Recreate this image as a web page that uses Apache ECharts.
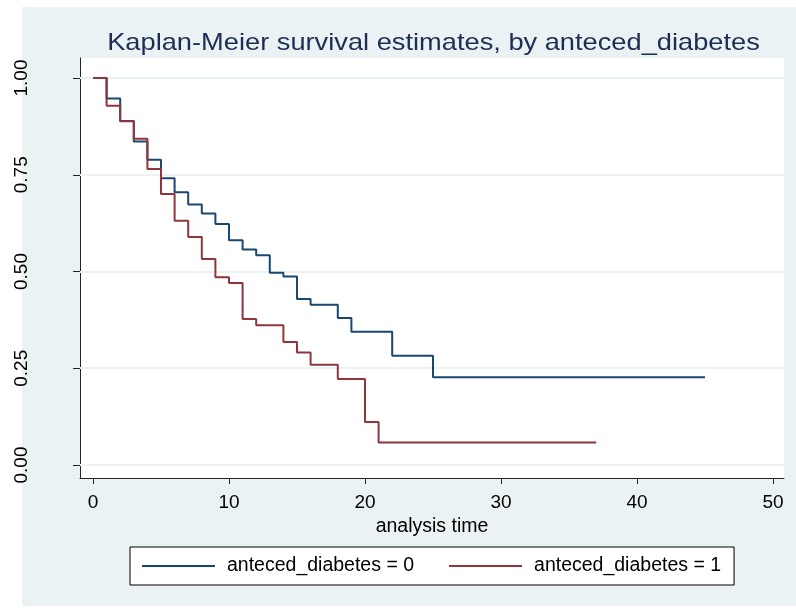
<!DOCTYPE html>
<html>
<head>
<meta charset="utf-8">
<script src="https://cdn.jsdelivr.net/npm/echarts@6/dist/echarts.min.js"></script>
<style>
html,body{margin:0;padding:0;background:#ffffff;}
#chart{width:796px;height:609px;}
</style>
</head>
<body>
<div id="chart"></div>
<script>
// Kaplan-Meier step data (time, survival)
var timesDiab0 = [0, 1, 2, 3, 4, 5, 6, 7, 8, 9, 10, 11, 12, 13, 14, 15, 16, 18, 19, 22, 25, 45];
var survDiab0  = [1.000, 0.947, 0.889, 0.836, 0.789, 0.741, 0.705, 0.673, 0.650, 0.623, 0.581, 0.557, 0.542, 0.497, 0.487, 0.429, 0.414, 0.380, 0.344, 0.282, 0.227, 0.227];
var timesDiab1 = [0, 1, 2, 3, 4, 5, 6, 7, 8, 9, 10, 11, 12, 14, 15, 16, 18, 20, 21, 37];
var survDiab1  = [1.000, 0.928, 0.888, 0.843, 0.765, 0.700, 0.631, 0.589, 0.532, 0.485, 0.470, 0.377, 0.361, 0.318, 0.291, 0.259, 0.222, 0.111, 0.058, 0.058];
var xTicks = [0, 10, 20, 30, 40, 50];
var yTicks = [0, 0.25, 0.5, 0.75, 1];
var seriesNames = ['anteced_diabetes = 0', 'anteced_diabetes = 1'];
var titleText = 'Kaplan-Meier survival estimates, by anteced_diabetes';

function pairs(xs, ys) { return xs.map(function (x, i) { return [x, ys[i]]; }); }

var FONT = '"Liberation Sans", Arial, sans-serif';
var chart = echarts.init(document.getElementById('chart'), null, {renderer: 'canvas'});
chart.setOption({
  animation: false,
  backgroundColor: '#ffffff',
  graphic: [{
    type: 'rect', z: -10, silent: true,
    shape: {x: 22, y: 7, width: 774, height: 599},
    style: {fill: '#EAF2F3'}
  }, {
    type: 'text', z: 10, silent: true,
    x: 433.5, y: 43, scaleX: 1.135, scaleY: 1,
    style: {
      text: titleText, fill: '#1E2D53',
      font: 'normal 24px ' + FONT,
      align: 'center', verticalAlign: 'middle'
    }
  }],
  grid: {
    left: 80, top: 58, width: 704, height: 420,
    show: true, backgroundColor: '#ffffff', borderWidth: 0
  },
  xAxis: {
    type: 'value', min: -0.956, max: 50.81,
    name: 'analysis time', nameLocation: 'middle', nameGap: 35,
    nameTextStyle: {fontFamily: FONT, fontSize: 19.5, color: '#000'},
    axisLine: {show: true, onZero: false, lineStyle: {color: '#222', width: 1}},
    axisTick: {show: true, customValues: xTicks, length: 6, lineStyle: {color: '#222'}},
    axisLabel: {customValues: xTicks, margin: 15, fontFamily: FONT, fontSize: 19, color: '#000'},
    splitLine: {show: false}
  },
  yAxis: {
    type: 'value', min: -0.0336, max: 1.0517,
    axisLine: {show: true, onZero: false, lineStyle: {color: '#222', width: 1}},
    axisTick: {show: true, customValues: yTicks, length: 7, lineStyle: {color: '#222'}},
    axisLabel: {
      customValues: yTicks, rotate: 90, margin: 49,
      fontFamily: FONT, fontSize: 19, color: '#000',
      formatter: function (v) { return v.toFixed(2); }
    },
    splitLine: {show: false}
  },
  legend: {
    data: seriesNames.map(function (n) { return {name: n, icon: 'rect'}; }),
    left: 130, top: 547,
    orient: 'horizontal',
    backgroundColor: '#ffffff', borderColor: '#000', borderWidth: 1,
    padding: [9, 13, 9, 12],
    itemWidth: 73, itemHeight: 2, itemGap: 35,
    textStyle: {fontFamily: FONT, fontSize: 19.5, color: '#000', padding: [0, 0, 0, 7]}
  },
  series: [
    {
      name: 'grid', type: 'line', data: [], silent: true, z: 1,
      markLine: {
        silent: true, z: 1, symbol: ['none', 'none'], label: {show: false},
        lineStyle: {color: '#EAF2F3', width: 2, type: 'solid'},
        data: yTicks.map(function (v) { return {yAxis: v}; })
      }
    },
    {
      name: seriesNames[0], type: 'line', step: 'end', showSymbol: false,
      data: pairs(timesDiab0, survDiab0), color: '#1A476F',
      lineStyle: {color: '#1A476F', width: 2}, z: 6
    },
    {
      name: seriesNames[1], type: 'line', step: 'end', showSymbol: false,
      data: pairs(timesDiab1, survDiab1), color: '#90353B',
      lineStyle: {color: '#90353B', width: 2}, z: 7
    }
  ]
});
</script>
</body>
</html>
